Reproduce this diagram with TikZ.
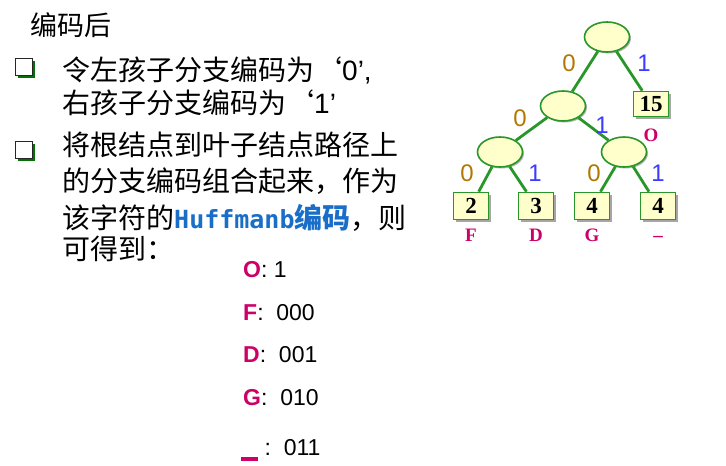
\documentclass[tikz,border=0pt]{standalone}
\usepackage{fontspec}
\setmainfont{Liberation Sans}
\newfontfamily\cjk{Noto Sans CJK SC}
\newfontfamily\serifb{Liberation Serif}
\newfontfamily\monob{DejaVu Sans Mono}
\usetikzlibrary{shapes.geometric,shadows,positioning}

\definecolor{treegreen}{RGB}{40,150,40}
\definecolor{nodefill}{RGB}{255,255,204}
\definecolor{bitzero}{RGB}{176,120,0}
\definecolor{bitone}{RGB}{60,60,255}
\definecolor{symred}{RGB}{204,0,102}
\definecolor{hblue}{RGB}{25,110,200}

\begin{document}
\begin{tikzpicture}[%
    x=1pt, y=-1pt,              % pixel-like units, y runs downwards
    ]
% -------------------------------------------------
% Styles for the tree and the text
\tikzset{
  inner/.style={ellipse, draw=treegreen, fill=nodefill, line width=1.6pt,
    minimum width=45pt, minimum height=30pt,
    drop shadow={shadow xshift=1.5pt, shadow yshift=-1.5pt, fill=gray!60, opacity=1}},
  leaf/.style={rectangle, draw=treegreen, fill=nodefill, line width=1.6pt,
    minimum width=35pt, minimum height=27pt, inner sep=0pt,
    font=\serifb\bfseries\fontsize{23}{23}\selectfont,
    drop shadow={shadow xshift=2pt, shadow yshift=-2pt, fill=gray!70, opacity=1}},
  branch/.style={draw=treegreen, line width=2.8pt},
  zero/.style={text=bitzero, font=\fontsize{24}{24}\selectfont},
  one/.style={text=bitone, font=\fontsize{24}{24}\selectfont},
  sym/.style={text=symred, inner sep=0pt, text height=13pt, text depth=0pt,
    font=\serifb\bfseries\fontsize{19}{19}\selectfont},
  txt/.style={anchor=base west, inner sep=0pt, font=\cjk\fontsize{28}{28}\selectfont},
  code/.style={anchor=base west, inner sep=0pt, font=\fontsize{23}{23}\selectfont},
  bullet/.style={rectangle, draw=black!85, fill=white, line width=1.3pt,
    minimum size=16.5pt, inner sep=0pt,
    drop shadow={shadow xshift=2.5pt, shadow yshift=-2.5pt, fill=green!45!black, opacity=1}}
}
\useasboundingbox (0,0) rectangle (726,466);
% -------------------------------------------------
% Text on the left
\node [txt, font=\cjk\fontsize{27}{27}\selectfont] (title) at (30,35) {编码后};
\node [bullet] (b1) at (24,67) {};
\node [txt] (t1) at (62,80) {令左孩子分支编码为‘{\rmfamily 0’,}};
\node [txt] (t2) at (62,113) {右孩子分支编码为‘{\rmfamily 1’}};
\node [bullet] (b2) at (24,150) {};
\node [txt] (t3) at (62,155) {将根结点到叶子结点路径上};
\node [txt] (t4) at (62,191) {的分支编码组合起来，作为};
\node [txt] (t5) at (62,228) {该字符的{\color{hblue}{\monob\bfseries\fontsize{25}{25}\selectfont Huffmanb}\bfseries 编码}，则};
\node [txt] (t6) at (62,259) {可得到：};

% -------------------------------------------------
% The codes
\node [code] (co) at (243,277) {{\bfseries\color{symred}O}: 1};
\node [code] (cf) at (243,320) {{\bfseries\color{symred}F}:\ \ 000};
\node [code] (cd) at (243,362) {{\bfseries\color{symred}D}:\ \ 001};
\node [code] (cg) at (243,405) {{\bfseries\color{symred}G}:\ \ 010};
\node [code] (cu) at (241,455) {{\color{symred}\rule[-6pt]{17pt}{4.5pt}}\ :\ \ 011};

% -------------------------------------------------
% The Huffman tree
\node [inner] (root) at (607,37) {};
\node [inner] (n0) at (563,106) {};
\node [leaf, minimum height=25pt] (n15) at (651,104) {15};
\node [inner] (nl) at (500,152) {};
\node [inner] (nr) at (624,152) {};
\node [leaf] (l2) at (471,206) {2};
\node [leaf] (l3) at (536,206) {3};
\node [leaf] (l4) at (592,206) {4};
\node [leaf] (l5) at (658,206) {4};

\path [branch] (root) -- (n0);
\path [branch] (root) -- (n15);
\path [branch] (n0) -- (nl);
\path [branch] (n0) -- (nr);
\path [branch] (nl) -- (l2);
\path [branch] (nl) -- (l3);
\path [branch] (nr) -- (l4);
\path [branch] (nr) -- (l5);

% Bits on the branches
\node [zero] (e1) at (569,63) {0};
\node [one] (e2) at (644,63) {1};
\node [zero] (e3) at (520,118) {0};
\node [one] (e4) at (602,125) {1};
\node [zero] (e5) at (467,173) {0};
\node [one] (e6) at (535,173) {1};
\node [zero] (e7) at (594,173) {0};
\node [one] (e8) at (658,173) {1};

% Symbols of the leaves
\node [sym, below=11pt of n15] (so) {O};
\node [sym, below=8pt of l2] (sf) {F};
\node [sym, below=8pt of l3] (sd) {D};
\node [sym, below=8pt of l4] (sg) {G};
\node [sym, below=8pt of l5] (su) {–};
% -------------------------------------------------
\end{tikzpicture}
\end{document}
